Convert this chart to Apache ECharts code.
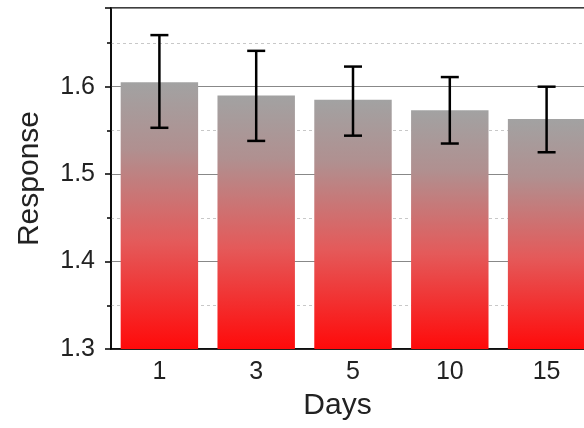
<!DOCTYPE html>
<html>
<head>
<meta charset="utf-8">
<script src="https://cdn.jsdelivr.net/npm/echarts@6/dist/echarts.min.js"></script>
<style>
  html, body { margin: 0; padding: 0; background: #fff; overflow: hidden; }
  #chart { width: 600px; height: 428px; }
</style>
</head>
<body>
<div id="chart"></div>
<script>
// days on the x axis
var days = ['1', '3', '5', '10', '15'];
// mean response for each day
var response = [1.605, 1.590, 1.585, 1.573, 1.563];
// error bar limits
var errLow = [1.553, 1.538, 1.544, 1.535, 1.525];
var errHigh = [1.659, 1.641, 1.623, 1.611, 1.600];

var FONT = 'Liberation Sans, Arial, sans-serif';

var barColor = {
    type: 'linear', x: 0, y: 0, x2: 0, y2: 1,
    colorStops: [
        { offset: 0, color: '#a2a2a2' },
        { offset: 0.25, color: '#b09090' },
        { offset: 0.6, color: '#e45a5a' },
        { offset: 1, color: '#ff0a0a' }
    ]
};

var errData = days.map(function (d, i) {
    return [i, errLow[i], errHigh[i]];
});

// the plot runs past the right edge of the 584px window, like the original
var option = {
    backgroundColor: '#fff',
    animation: false,
    grid: {
        left: 111, top: 8, bottom: 79, right: 5,
        show: true, borderColor: '#000', borderWidth: 1.5,
        containLabel: false
    },
    xAxis: [{
        type: 'category',
        data: days,
        name: 'Days',
        nameLocation: 'middle',
        nameGap: 42,
        nameTextStyle: { fontFamily: FONT, fontSize: 30, color: '#222', padding: [0, 31, 0, 0] },
        axisLine: { lineStyle: { color: '#000', width: 1.5 } },
        axisTick: { alignWithLabel: true, length: 6, lineStyle: { color: '#000', width: 1.5 } },
        axisLabel: { fontFamily: FONT, fontSize: 25, color: '#222', margin: 11 },
        splitLine: { show: false }
    }, {
        type: 'category',
        data: days,
        position: 'bottom',
        axisLine: { show: false },
        axisTick: { length: 4, lineStyle: { color: '#000', width: 1.5 } },
        axisLabel: { show: false },
        splitLine: { show: false }
    }],
    yAxis: {
        type: 'value',
        min: 1.3,
        max: 1.69,
        interval: 0.1,
        name: 'Response',
        nameLocation: 'middle',
        nameGap: 66,
        nameTextStyle: { fontFamily: FONT, fontSize: 30, color: '#222' },
        axisLine: { show: true, lineStyle: { color: '#000', width: 1.5 } },
        axisTick: { show: true, length: 6, lineStyle: { color: '#000', width: 1.5 } },
        minorTick: { show: true, splitNumber: 2, length: 4, lineStyle: { color: '#000', width: 1.5 } },
        axisLabel: {
            fontFamily: FONT, fontSize: 25, color: '#222', margin: 16,
            formatter: function (v) { return Math.abs(v - 1.69) < 1e-6 ? '' : v.toFixed(1); }
        },
        splitLine: { show: true, lineStyle: { color: '#888', width: 1 } },
        minorSplitLine: { show: true, lineStyle: { color: '#c8c8c8', width: 1, type: [3, 3] } }
    },
    series: [{
        type: 'bar',
        data: response,
        barCategoryGap: '20%',
        itemStyle: { color: barColor },
        z: 2
    }, {
        type: 'custom',
        data: errData,
        z: 5,
        renderItem: function (params, api) {
            var x = api.value(0);
            var lo = api.coord([x, api.value(1)]);
            var hi = api.coord([x, api.value(2)]);
            var cap = 9;
            var style = { stroke: '#000', lineWidth: 2.5 };
            return {
                type: 'group',
                children: [
                    { type: 'line', shape: { x1: lo[0], y1: lo[1], x2: hi[0], y2: hi[1] }, style: style },
                    { type: 'line', shape: { x1: hi[0] - cap, y1: hi[1], x2: hi[0] + cap, y2: hi[1] }, style: style },
                    { type: 'line', shape: { x1: lo[0] - cap, y1: lo[1], x2: lo[0] + cap, y2: lo[1] }, style: style }
                ]
            };
        }
    }]
};

var chart = echarts.init(document.getElementById('chart'));
chart.setOption(option);
</script>
</body>
</html>
